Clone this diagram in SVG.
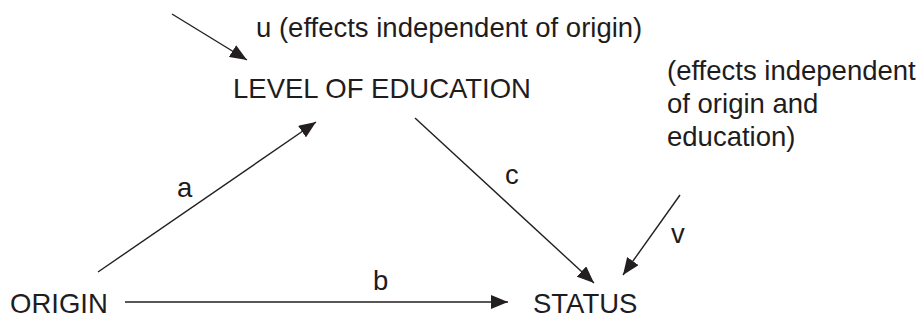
<svg xmlns="http://www.w3.org/2000/svg" width="920" height="320" viewBox="0 0 920 320">
  <style>
    text { font-family: "Liberation Sans", Arial, sans-serif; font-size: 27.5px; fill: #1f1c1d; }
    .edge { stroke: #231f20; stroke-width: 1.4; fill: none; marker-end: url(#arrow); }
  </style>
  <defs>
    <marker id="arrow" markerUnits="userSpaceOnUse" markerWidth="18" markerHeight="14" refX="17" refY="7" orient="auto">
      <path d="M0,0 L17,7 L0,14 z" fill="#231f20"/>
    </marker>
  </defs>
  <rect width="920" height="320" fill="#ffffff"/>

  <g id="node-education">
    <text x="233" y="98">LEVEL OF EDUCATION</text>
  </g>
  <g id="node-origin">
    <text x="10" y="313">ORIGIN</text>
  </g>
  <g id="node-status">
    <text x="533" y="313">STATUS</text>
  </g>
  <g id="node-u">
    <text x="256" y="37">u (effects independent of origin)</text>
  </g>
  <g id="node-v">
    <text x="667" y="80">(effects independent</text>
    <text x="667" y="113">of origin and</text>
    <text x="667" y="146">education)</text>
  </g>

  <g id="connectors">
    <line class="edge" x1="172" y1="14" x2="247" y2="60"/>
    <line class="edge" x1="98" y1="272" x2="316" y2="122"/>
    <line class="edge" x1="415" y1="118" x2="594" y2="283"/>
    <line class="edge" x1="680" y1="195" x2="623" y2="275"/>
    <line class="edge" x1="125" y1="302" x2="508" y2="302"/>
    <text x="177" y="197">a</text>
    <text x="373" y="290">b</text>
    <text x="505" y="184">c</text>
    <text x="671" y="243">v</text>
  </g>
</svg>
